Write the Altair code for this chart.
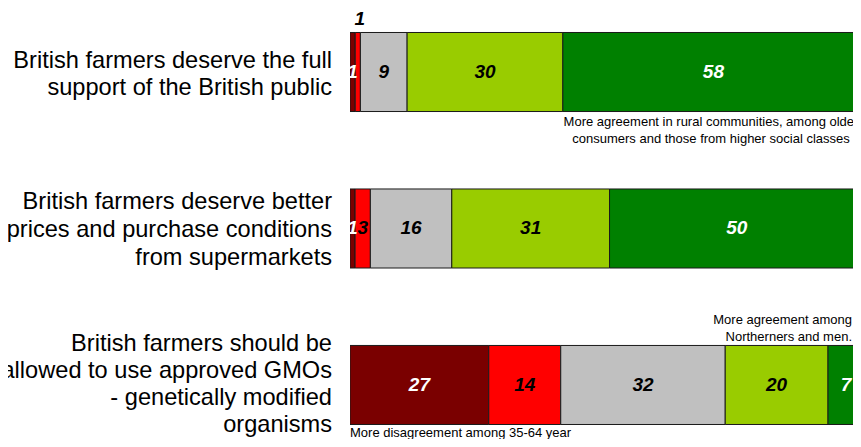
import altair as alt
import pandas as pd

questions = [
    "British farmers deserve the full\nsupport of the British public",
    "British farmers deserve better\nprices and purchase conditions\nfrom supermarkets",
    "British farmers should be\nallowed to use approved GMOs\n- genetically modified\norganisms",
]
levels = ["Strongly disagree", "Disagree", "Neither", "Agree", "Strongly agree"]
colors = ["#7A0000", "#FF0000", "#C0C0C0", "#99CC00", "#008000"]
values_q1 = [1, 1, 9, 30, 58]
values_q2 = [1, 3, 16, 31, 50]
values_q3 = [27, 14, 32, 20, 7]

notes_q1 = "More agreement in rural communities, among older\nconsumers and those from higher social classes"
notes_q3_top = "More agreement among\nNortherners and men."
notes_q3_bottom = "More disagreement among 35-64 year"

rows = []
for qi, vals in enumerate([values_q1, values_q2, values_q3]):
    for i, (lev, v) in enumerate(zip(levels, vals)):
        rows.append({"q": qi, "qname": questions[qi], "level": lev, "order": i, "value": v})
df = pd.DataFrame(rows)

FONT = "Liberation Sans"
yscale = alt.Scale(domain=questions, paddingInner=0.495, paddingOuter=0.1246, align=0.628)
xscale = alt.Scale(domain=[0, 0.9786], nice=False, zero=True)
Y = alt.Y("qname:N", scale=yscale, axis=None)

base = alt.Chart(df)

bars = base.mark_bar(stroke="#1a1a1a", strokeWidth=1, clip=True).encode(
    x=alt.X("value:Q", stack="normalize", scale=xscale, axis=None),
    y=Y,
    color=alt.Color("level:N", scale=alt.Scale(domain=levels, range=colors), legend=None),
    order=alt.Order("order:Q"),
)

stacked = base.transform_stack(
    stack="value", groupby=["qname"], as_=["x0", "x1"],
    sort=[alt.SortField("order")], offset="normalize",
).transform_calculate(
    mid="(datum.x0 + datum.x1) / 2",
    tc="(datum.level == 'Strongly disagree' || datum.level == 'Strongly agree') ? 'white' : 'black'",
)

text_main = stacked.transform_filter(
    "!(datum.q == 0 && datum.level == 'Disagree')"
).mark_text(font=FONT, fontSize=19, fontWeight="bold", fontStyle="italic", baseline="middle").encode(
    x=alt.X("mid:Q", scale=xscale, axis=None),
    y=Y,
    text="value:Q",
    color=alt.Color("tc:N", scale=None),
)

text_above = stacked.transform_filter(
    "datum.q == 0 && datum.level == 'Disagree'"
).mark_text(font=FONT, fontSize=19, fontWeight="bold", fontStyle="italic", baseline="middle", dy=-53, dx=2).encode(
    x=alt.X("mid:Q", scale=xscale, axis=None),
    y=Y,
    text="value:Q",
    color=alt.value("black"),
)

label_dy = [-11, -26, -41]
label_lh = [27, 28, 27]
qlabels = []
for qi, q in enumerate(questions):
    qlabels.append(
        alt.Chart(pd.DataFrame({"qname": [q]})).mark_text(
            font=FONT, fontSize=23.6, align="right", baseline="middle", lineBreak="\n",
            lineHeight=label_lh[qi], dy=label_dy[qi], color="black"
        ).encode(x=alt.value(-18), y=Y, text="qname:N")
    )

ann1 = alt.Chart(pd.DataFrame({"qname": [questions[0]], "t": [notes_q1]})).mark_text(
    font=FONT, fontSize=13, align="center", baseline="middle", lineBreak="\n", lineHeight=17, dy=50, color="black"
).encode(x=alt.value(361), y=Y, text="t:N")

ann2 = alt.Chart(pd.DataFrame({"qname": [questions[2]], "t": [notes_q3_top]})).mark_text(
    font=FONT, fontSize=13, align="right", baseline="middle", lineBreak="\n", lineHeight=17, dy=-65, color="black"
).encode(x=alt.value(502), y=Y, text="t:N")

ann3 = alt.Chart(pd.DataFrame({"qname": [questions[2]], "t": [notes_q3_bottom]})).mark_text(
    font=FONT, fontSize=13, align="left", baseline="middle", dy=48, color="black"
).encode(x=alt.value(0), y=Y, text="t:N")

chart = alt.layer(bars, text_main, text_above, *qlabels, ann1, ann2, ann3).properties(
    width=503, height=431,
    padding={"left": 342, "top": 0, "right": 0, "bottom": 0},
    autosize=alt.AutoSizeParams(type="none"),
).configure_view(stroke=None)

chart.save("out.html", embed_options={"renderer": "svg", "actions": False})
